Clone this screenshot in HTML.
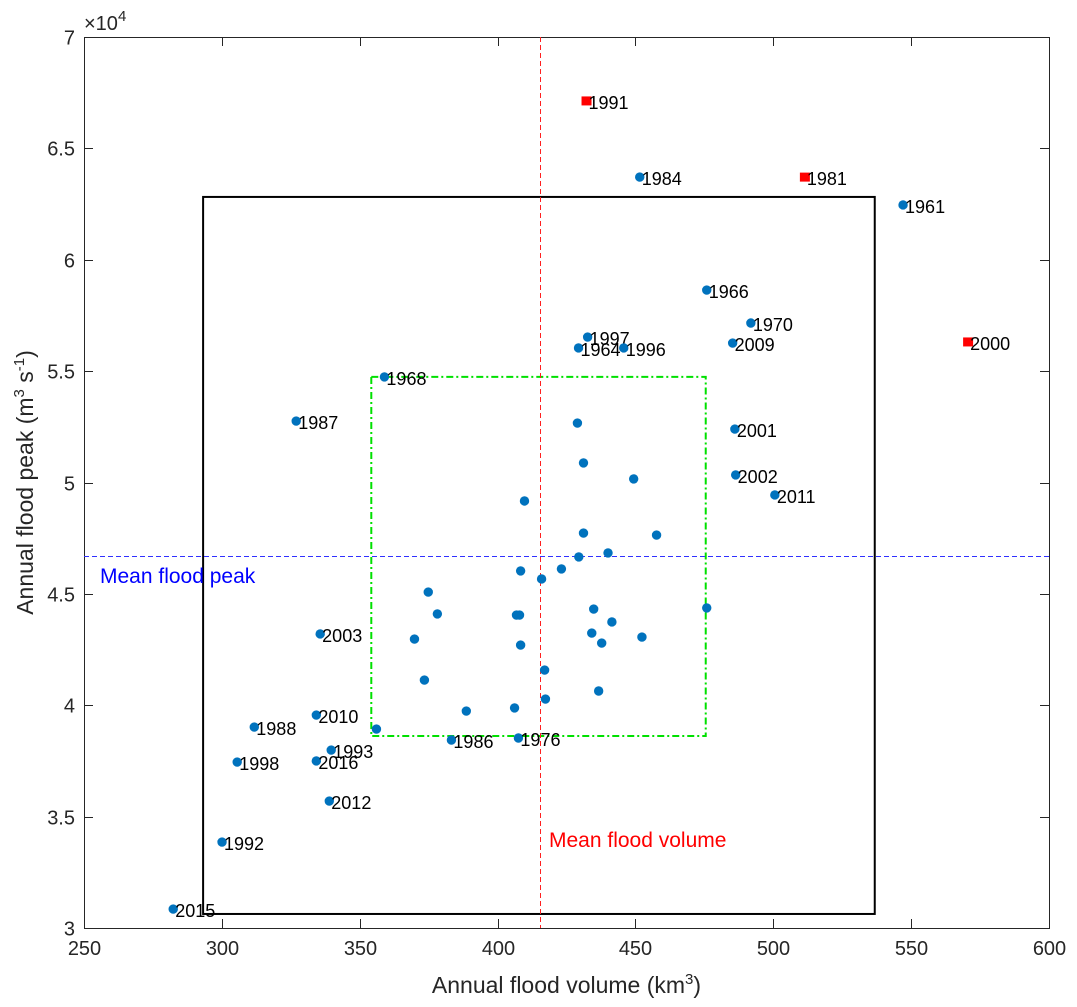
<!DOCTYPE html>
<html><head><meta charset="utf-8"><style>
html,body{margin:0;padding:0;background:#fff;}
svg{display:block;font-family:"Liberation Sans",Arial,sans-serif;}
</style></head><body>
<svg id="chart" width="1077" height="1007" xmlns="http://www.w3.org/2000/svg"></svg>
<script>
const xTicks=[250,300,350,400,450,500,550,600];
const yTicks=[3,3.5,4,4.5,5,5.5,6,6.5,7];
const redYears=["1991","1981","2000"];
const redVol=[431.9,511.1,570.3];
const redPeak=[6.713,6.371,5.631];
const labYears=["1984","1961","1966","1970","1997","1964","1996","2009","1968","1987","2001","2002","2011","2003","2010","1988","1993","1998","2016","2012","1992","2015","1986","1976"];
const labVol=[451.2,546.7,475.5,491.5,432.3,429.0,445.4,484.9,358.6,326.6,485.7,486.0,500.2,335.3,333.9,311.4,339.3,305.2,333.9,338.6,299.7,282.0,382.9,407.2];
const labPeak=[6.371,6.246,5.864,5.716,5.653,5.604,5.604,5.626,5.474,5.276,5.240,5.034,4.944,4.320,3.956,3.902,3.799,3.745,3.750,3.570,3.386,3.085,3.844,3.853];
const unVol=[428.6,430.8,409.4,449.0,430.8,457.3,439.7,429.1,422.8,408.0,415.6,374.5,434.5,475.5,377.8,406.5,407.6,441.1,452.0,369.5,433.8,408.0,437.4,416.7,373.1,436.3,417.0,388.3,405.8,355.7];
const unPeak=[5.267,5.088,4.917,5.016,4.773,4.764,4.684,4.666,4.612,4.603,4.567,4.508,4.432,4.437,4.410,4.405,4.405,4.374,4.306,4.297,4.324,4.270,4.279,4.158,4.113,4.064,4.028,3.974,3.988,3.893];
const blackBox=[293.2,536.8,3.063,6.282];
const greenBox=[354.2,475.5,3.862,5.474];
const meanVol=415.4, meanPeak=4.670;

const L=84,R=1049,T=37,B=928;
const sx=v=>L+(v-250)/350*(R-L);
const sy=v=>B-(v-3)/4*(B-T);
const svg=document.getElementById('chart');
const NS="http://www.w3.org/2000/svg";
function mk(tag,attrs,txt){const e=document.createElementNS(NS,tag);for(const k in attrs)e.setAttribute(k,attrs[k]);if(txt!==undefined)e.textContent=txt;svg.appendChild(e);return e;}

let e=mk('rect',{x:L+0.5,y:T+0.5,width:R-L,height:B-T,fill:'none',stroke:'#262626','stroke-width':1});


xTicks.forEach(t=>{
  const x=Math.round(sx(t))+0.5;
  let l=mk('line',{x1:x,x2:x,y1:B,y2:B-9,stroke:'#262626'});
  
  
  let l2=mk('line',{x1:x,x2:x,y1:T,y2:T+9,stroke:'#262626'});
  
  
  let tx=mk('text',{x:x,y:B+27,'text-anchor':'middle','font-size':20,fill:'#262626'},String(t));
  
  
});
yTicks.forEach(t=>{
  const y=Math.round(sy(t))+0.5;
  let l=mk('line',{x1:L,x2:L+9,y1:y,y2:y,stroke:'#262626'});
  
  
  let l2=mk('line',{x1:R,x2:R-9,y1:y,y2:y,stroke:'#262626'});
  
  
  let tx=mk('text',{x:L-9,y:y+7,'text-anchor':'end','font-size':20,fill:'#262626'},String(t));
  
  
});
let ex=mk('text',{x:84,y:30,'font-size':20,fill:'#262626'});


ex.innerHTML='×10<tspan dy="-9" font-size="15">4</tspan>';

let xt=mk('text',{x:(L+R)/2,y:993,'text-anchor':'middle','font-size':23,fill:'#262626'});


xt.innerHTML='Annual flood volume (km<tspan dy="-9" font-size="15">3</tspan><tspan dy="9">)</tspan>';
let yt=mk('text',{x:0,y:0,'text-anchor':'middle','font-size':23,fill:'#262626',transform:'translate(33,'+((T+B)/2)+') rotate(-90)'});


yt.innerHTML='Annual flood peak (m<tspan dy="-9" font-size="15">3</tspan><tspan dy="9"> s</tspan><tspan dy="-9" font-size="15">-1</tspan><tspan dy="9">)</tspan>';

let bb=mk('rect',{x:sx(blackBox[0]),y:sy(blackBox[3]),width:sx(blackBox[1])-sx(blackBox[0]),height:sy(blackBox[2])-sy(blackBox[3]),fill:'none',stroke:'#000','stroke-width':2});


let gb=mk('rect',{x:sx(greenBox[0]),y:sy(greenBox[3]),width:sx(greenBox[1])-sx(greenBox[0]),height:sy(greenBox[2])-sy(greenBox[3]),fill:'none',stroke:'#00e000','stroke-width':2,'stroke-dasharray':'7 3 2 3'});


const mvx=Math.round(sx(meanVol))+0.5;
let mv=mk('line',{x1:mvx,x2:mvx,y1:T,y2:B,stroke:'#ff2020','stroke-width':1,'stroke-dasharray':'5 3'});


const mpy=Math.round(sy(meanPeak))+0.5;
let mp=mk('line',{x1:L,x2:R,y1:mpy,y2:mpy,stroke:'#3030ff','stroke-width':1,'stroke-dasharray':'5 3'});


let mvt=mk('text',{x:549,y:847,'font-size':21,fill:'#ff0000'},'Mean flood volume');


let mpt=mk('text',{x:100,y:583,'font-size':21,fill:'#0000ff'},'Mean flood peak');



unVol.forEach((v,i)=>{
  let c=mk('circle',{cx:sx(v)+1,cy:sy(unPeak[i]),r:4.7,fill:'#0072bd'});
  
  
});
labVol.forEach((v,i)=>{
  const x=sx(v)+1,y=sy(labPeak[i]);
  let c=mk('circle',{cx:x,cy:y,r:4.7,fill:'#0072bd'});
  
  
  let t=mk('text',{x:x+2,y:y+8,'font-size':18,fill:'#000'},labYears[i]);
  
  
});
redVol.forEach((v,i)=>{
  const x=sx(v)+1,y=sy(redPeak[i]);
  let r=mk('rect',{x:x-5,y:y-4.5,width:10,height:9,fill:'#ff0000'});
  
  
  let t=mk('text',{x:x+2,y:y+8,'font-size':18,fill:'#000'},redYears[i]);
  
  
});
</script>
</body></html>
